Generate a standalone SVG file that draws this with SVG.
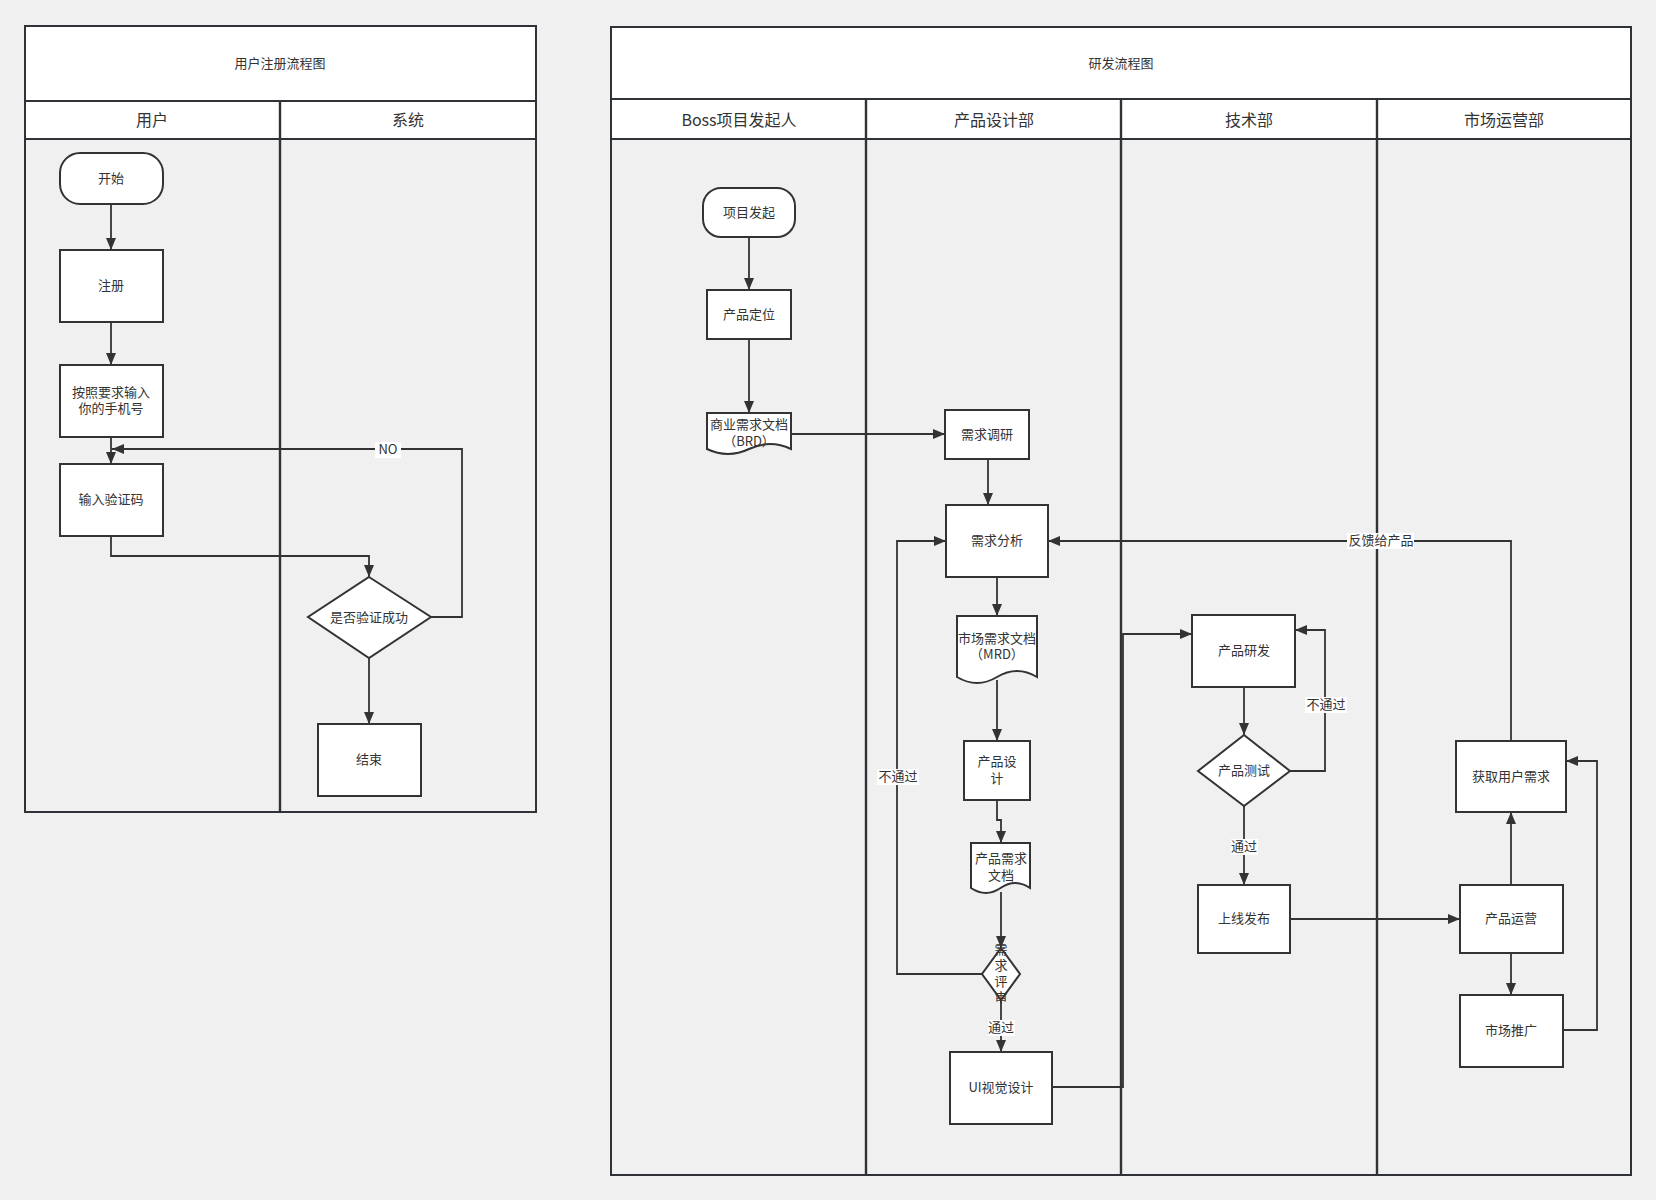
<svg xmlns="http://www.w3.org/2000/svg" width="1656" height="1200" viewBox="0 0 1656 1200">
<defs>
<style>
.t{font-family:"Noto Sans CJK SC","Liberation Sans",sans-serif;fill:#333;text-anchor:middle;dominant-baseline:central;transform:translateY(-1.5px)}
.s13{font-size:13px}
.s16{font-size:16px}
.pool{fill:none;stroke:#2f3337;stroke-width:2}
.hdr{fill:#fff;stroke:#2f3337;stroke-width:2}
.div{stroke:#2f3337;stroke-width:2.4;fill:none}
.n{fill:#fff;stroke:#333;stroke-width:2}
.e{fill:none;stroke:#333;stroke-width:1.8}
.lb{fill:#fff}
</style>
<marker id="ar" viewBox="0 0 12 10" refX="12" refY="5" markerWidth="12" markerHeight="10" markerUnits="userSpaceOnUse" orient="auto">
<path d="M0,0 L12,5 L0,10 z" fill="#333"/>
</marker>
</defs>
<rect x="0" y="0" width="1656" height="1200" fill="#f0f0f0"/>

<!-- Left pool -->
<g id="pool-register">
<rect class="hdr" x="25" y="26" width="511" height="75"/>
<text class="t s13" x="280" y="64">用户注册流程图</text>
<rect class="hdr" x="25" y="101" width="511" height="38"/>
<text class="t s16" x="152" y="120">用户</text>
<text class="t s16" x="408" y="120">系统</text>
<rect class="pool" x="25" y="26" width="511" height="786"/>
<line class="div" x1="280" y1="101" x2="280" y2="812"/>
</g>

<!-- Right pool -->
<g id="pool-rd">
<rect class="hdr" x="611" y="27" width="1020" height="72"/>
<text class="t s13" x="1121" y="64">研发流程图</text>
<rect class="hdr" x="611" y="99" width="1020" height="40"/>
<text class="t s16" x="739" y="120">Boss项目发起人</text>
<text class="t s16" x="994" y="120">产品设计部</text>
<text class="t s16" x="1249" y="120">技术部</text>
<text class="t s16" x="1504" y="120">市场运营部</text>
<rect class="pool" x="611" y="27" width="1020" height="1148"/>
<line class="div" x1="866" y1="99" x2="866" y2="1175"/>
<line class="div" x1="1121" y1="99" x2="1121" y2="1175"/>
<line class="div" x1="1377" y1="99" x2="1377" y2="1175"/>
</g>

<!-- Connectors -->
<g id="connectors">
<path class="e" d="M111,204 V250" marker-end="url(#ar)"/>
<path class="e" d="M111,322 V365" marker-end="url(#ar)"/>
<path class="e" d="M111,437 V464" marker-end="url(#ar)"/>
<path class="e" d="M111,536 V556 H369 V577" marker-end="url(#ar)"/>
<path class="e" d="M369,658 V724" marker-end="url(#ar)"/>
<path class="e" d="M431,617 H462 V449 H112" marker-end="url(#ar)"/>

<path class="e" d="M749,237 V290" marker-end="url(#ar)"/>
<path class="e" d="M749,339 V413" marker-end="url(#ar)"/>
<path class="e" d="M791,434 H945" marker-end="url(#ar)"/>
<path class="e" d="M988,459 V505" marker-end="url(#ar)"/>
<path class="e" d="M997,577 V616" marker-end="url(#ar)"/>
<path class="e" d="M997,680 V741" marker-end="url(#ar)"/>
<path class="e" d="M997,800 V820 H1001 V843" marker-end="url(#ar)"/>
<path class="e" d="M1001,892 V948" marker-end="url(#ar)"/>
<path class="e" d="M1001,1000 V1052" marker-end="url(#ar)"/>
<path class="e" d="M982,974 H897 V541 H946" marker-end="url(#ar)"/>
<path class="e" d="M1052,1087 H1123 V634 H1192" marker-end="url(#ar)"/>
<path class="e" d="M1244,687 V735" marker-end="url(#ar)"/>
<path class="e" d="M1290,771 H1325 V630 H1295" marker-end="url(#ar)"/>
<path class="e" d="M1244,806 V885" marker-end="url(#ar)"/>
<path class="e" d="M1290,919 H1460" marker-end="url(#ar)"/>
<path class="e" d="M1511,885 V812" marker-end="url(#ar)"/>
<path class="e" d="M1511,953 V995" marker-end="url(#ar)"/>
<path class="e" d="M1563,1030 H1597 V761 H1566" marker-end="url(#ar)"/>
<path class="e" d="M1511,741 V541 H1048" marker-end="url(#ar)"/>

<rect class="lb" x="375" y="442" width="26" height="16"/>
<text class="t s13" x="388" y="450">NO</text>
<rect class="lb" x="877" y="769" width="42" height="16"/>
<text class="t s13" x="898" y="777">不通过</text>
<rect class="lb" x="988" y="1020" width="27" height="16"/>
<text class="t s13" x="1001" y="1028">通过</text>
<rect class="lb" x="1305" y="697" width="42" height="16"/>
<text class="t s13" x="1326" y="705">不通过</text>
<rect class="lb" x="1231" y="839" width="27" height="16"/>
<text class="t s13" x="1244" y="847">通过</text>
<rect class="lb" x="1347" y="533" width="67" height="16"/>
<text class="t s13" x="1381" y="541">反馈给产品</text>
</g>

<!-- Left nodes -->
<g id="n-start"><rect class="n" x="60" y="153" width="103" height="51" rx="20"/><text class="t s13" x="111" y="179">开始</text></g>
<g id="n-register"><rect class="n" x="60" y="250" width="103" height="72"/><text class="t s13" x="111" y="286">注册</text></g>
<g id="n-phone"><rect class="n" x="60" y="365" width="103" height="72"/><text class="t s13" x="111" y="393">按照要求输入</text><text class="t s13" x="111" y="409">你的手机号</text></g>
<g id="n-code"><rect class="n" x="60" y="464" width="103" height="72"/><text class="t s13" x="111" y="500">输入验证码</text></g>
<g id="n-verify"><path class="n" d="M369,577 L431,617 L369,658 L308,617 Z"/><text class="t s13" x="369" y="618">是否验证成功</text></g>
<g id="n-end"><rect class="n" x="318" y="724" width="103" height="72"/><text class="t s13" x="369" y="760">结束</text></g>

<!-- Right nodes -->
<g id="n-init"><rect class="n" x="703" y="188" width="92" height="49" rx="18"/><text class="t s13" x="749" y="213">项目发起</text></g>
<g id="n-position"><rect class="n" x="707" y="290" width="84" height="49"/><text class="t s13" x="749" y="315">产品定位</text></g>
<g id="n-brd"><path class="n" d="M707,413 H791 V449 Q770,439 749,449 T707,449 Z"/><text class="t s13" x="749" y="425">商业需求文档</text><text class="t s13" x="749" y="442">（BRD）</text></g>
<g id="n-research"><rect class="n" x="945" y="410" width="84" height="49"/><text class="t s13" x="987" y="435">需求调研</text></g>
<g id="n-analysis"><rect class="n" x="946" y="505" width="102" height="72"/><text class="t s13" x="997" y="541">需求分析</text></g>
<g id="n-mrd"><path class="n" d="M957,616 H1037 V677 Q1017,665 997,677 T957,677 Z"/><text class="t s13" x="997" y="639">市场需求文档</text><text class="t s13" x="997" y="655">（MRD）</text></g>
<g id="n-design"><rect class="n" x="964" y="741" width="66" height="59"/><text class="t s13" x="997" y="762">产品设</text><text class="t s13" x="997" y="779">计</text></g>
<g id="n-prd"><path class="n" d="M971,843 H1030 V888 Q1015,878 1000.5,888 T971,888 Z"/><text class="t s13" x="1001" y="859">产品需求</text><text class="t s13" x="1001" y="876">文档</text></g>
<g id="n-review"><path class="n" d="M1001,948 L1020,974 L1001,1000 L982,974 Z"/><text class="t s13" x="1001" y="950">需</text><text class="t s13" x="1001" y="966">求</text><text class="t s13" x="1001" y="982">评</text><text class="t s13" x="1001" y="998">审</text></g>
<g id="n-ui"><rect class="n" x="950" y="1052" width="102" height="72"/><text class="t s13" x="1001" y="1088">UI视觉设计</text></g>
<g id="n-dev"><rect class="n" x="1192" y="615" width="103" height="72"/><text class="t s13" x="1244" y="651">产品研发</text></g>
<g id="n-test"><path class="n" d="M1244,735 L1290,771 L1244,806 L1198,771 Z"/><text class="t s13" x="1244" y="771">产品测试</text></g>
<g id="n-release"><rect class="n" x="1198" y="885" width="92" height="68"/><text class="t s13" x="1244" y="919">上线发布</text></g>
<g id="n-ops"><rect class="n" x="1460" y="885" width="103" height="68"/><text class="t s13" x="1511" y="919">产品运营</text></g>
<g id="n-needs"><rect class="n" x="1456" y="741" width="110" height="71"/><text class="t s13" x="1511" y="777">获取用户需求</text></g>
<g id="n-promo"><rect class="n" x="1460" y="995" width="103" height="72"/><text class="t s13" x="1511" y="1031">市场推广</text></g>
</svg>
